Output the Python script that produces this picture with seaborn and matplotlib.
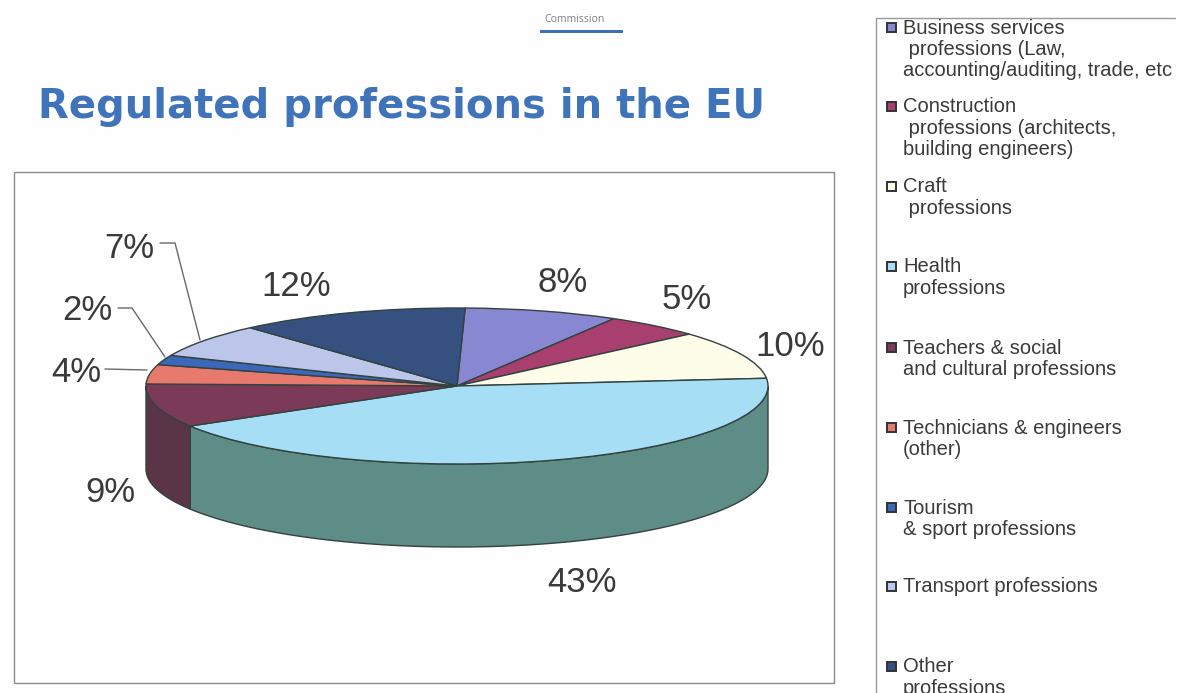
import numpy as np
import matplotlib
matplotlib.use("Agg")
import matplotlib.pyplot as plt
import seaborn as sns
from matplotlib.lines import Line2D
from matplotlib.patches import Polygon, Rectangle
from matplotlib.transforms import Bbox

# Shares of regulated professions, clockwise from the top of the pie
categories = ["Business services", "Construction", "Craft", "Health", "Teachers",
              "Technicians", "Tourism", "Transport", "Other"]
shares = [8, 5, 10, 43, 9, 4, 2, 7, 12]
share_labels = ["8%", "5%", "10%", "43%", "9%", "4%", "2%", "7%", "12%"]
top_colors = ["#8787d2", "#a93f6e", "#fdfde9", "#a6dff5", "#7a3a58",
              "#e8796d", "#3b68b9", "#bcc5ea", "#36517f"]
wall_colors = ["#5d5d96", "#75304f", "#b0b09a", "#5e8c86", "#5a3548",
               "#a5544c", "#294a84", "#858ca8", "#25395a"]

legend_entries = [
    ["Business services", " professions (Law,", "accounting/auditing, trade, etc"],
    ["Construction", " professions (architects,", "building engineers)"],
    ["Craft", " professions"],
    ["Health", "professions"],
    ["Teachers & social", "and cultural professions"],
    ["Technicians & engineers", "(other)"],
    ["Tourism", "& sport professions"],
    ["Transport professions"],
    ["Other", "professions"],
]

W, H = 1181, 693
CX, CY, RX, RY, DEPTH = 457, 386, 311, 78, 83
TURN = 1.5  # clockwise rotation of the whole pie, degrees

sns.set_theme(style="white")
plt.rcParams["font.family"] = ["Liberation Sans", "DejaVu Sans"]

fig = plt.figure(figsize=(W / 100, H / 100), dpi=100, facecolor="#fefefe")
ax = fig.add_axes([0, 0, 1, 1])


def fx(px):
    return px / W


def fy(py):
    return 1 - py / H


TEXT = "#3a3a3a"
EDGE = "#33423f"

# Pie top face; the axes are stretched so that the circle reads as a tilted ellipse
ax.pie(shares, colors=top_colors, startangle=90 - TURN, counterclock=False, radius=1,
       wedgeprops=dict(edgecolor=EDGE, linewidth=1.0, zorder=3))
ax.set_aspect("auto")
ax.set_xlim(-CX / RX, (W - CX) / RX)
ax.set_ylim((CY - H) / RY, CY / RY)
ax.axis("off")

# Side wall: only the part of each slice facing the viewer is visible
bounds = np.concatenate([[0], np.cumsum(shares)]) / sum(shares) * 360 + TURN
depth = DEPTH / RY
for start, stop, color in zip(bounds[:-1], bounds[1:], wall_colors):
    lo, hi = max(start, 90), min(stop, 270)
    if lo >= hi:
        continue
    t = np.radians(np.linspace(lo, hi, 80))
    x, y = np.sin(t), np.cos(t)
    pts = np.r_[np.c_[x, y], np.c_[x, y - depth][::-1]]
    ax.add_patch(Polygon(pts, closed=True, facecolor=color, edgecolor=EDGE,
                         linewidth=1.0, zorder=2))

# Chart frame and legend frame
fig.add_artist(Rectangle((fx(14), fy(683)), fx(834 - 14), fy(172) - fy(683),
                         transform=fig.transFigure, fill=False, edgecolor="#8a8a8a", linewidth=1))
fig.add_artist(Line2D([fx(876), fx(876)], [fy(18), fy(693)], color="#9a9a9a", linewidth=1))
fig.add_artist(Line2D([fx(876), fx(1175)], [fy(18), fy(18)], color="#9a9a9a", linewidth=1))

# Header
fig.text(fx(575), fy(19), "Commission", ha="center", va="center", fontsize=7.6,
         color="#7a8088", family=["Open Sans"])
fig.add_artist(Rectangle((fx(540), fy(33)), fx(83), fy(30) - fy(33),
                         transform=fig.transFigure, facecolor="#3f6fb5", edgecolor="none"))
fig.text(fx(38), fy(107), "Regulated professions in the EU", ha="left", va="center",
         fontsize=28.9, fontweight="bold", color="#3f74ba", family=["DejaVu Sans"])

# Percentage labels
label_pos = [(563, 283), (687, 299), (790, 347), (582, 583), (110, 493),
             (76, 372), (87, 311), (129, 249), (296, 286)]
for text, (px, py) in zip(share_labels, label_pos):
    fig.text(fx(px), fy(py), text, ha="center", va="center", fontsize=25, color=TEXT)

# Leader lines for the three narrow slices
leaders = [[(105, 369), (147, 370)],
           [(118, 308), (132, 308), (165, 357)],
           [(160, 243), (175, 243), (200, 340)]]
for path in leaders:
    xs, ys = zip(*path)
    fig.add_artist(Line2D([fx(v) for v in xs], [fy(v) for v in ys],
                          color="#6a6a6a", linewidth=1))

# Legend: square swatch followed by the wrapped text, cut off at the frame's right edge
first_lines = [28, 107, 187, 267, 348, 428, 508, 587, 667]
line_step = 21.3
clip = Bbox([[876, 0], [1172, H]])
for entry, color, y0 in zip(legend_entries, top_colors, first_lines):
    fig.add_artist(Rectangle((fx(887), fy(y0 + 4)), fx(9), fy(y0 - 5) - fy(y0 + 4),
                             transform=fig.transFigure, facecolor=color,
                             edgecolor="#30343a", linewidth=1.4))
    for i, line in enumerate(entry):
        t = fig.text(fx(903), fy(y0 + i * line_step), line, ha="left", va="center",
                     fontsize=14.5, color=TEXT)
        t.set_clip_box(clip)
        t.set_clip_on(True)

fig.savefig("out.png", dpi=100, facecolor=fig.get_facecolor())
